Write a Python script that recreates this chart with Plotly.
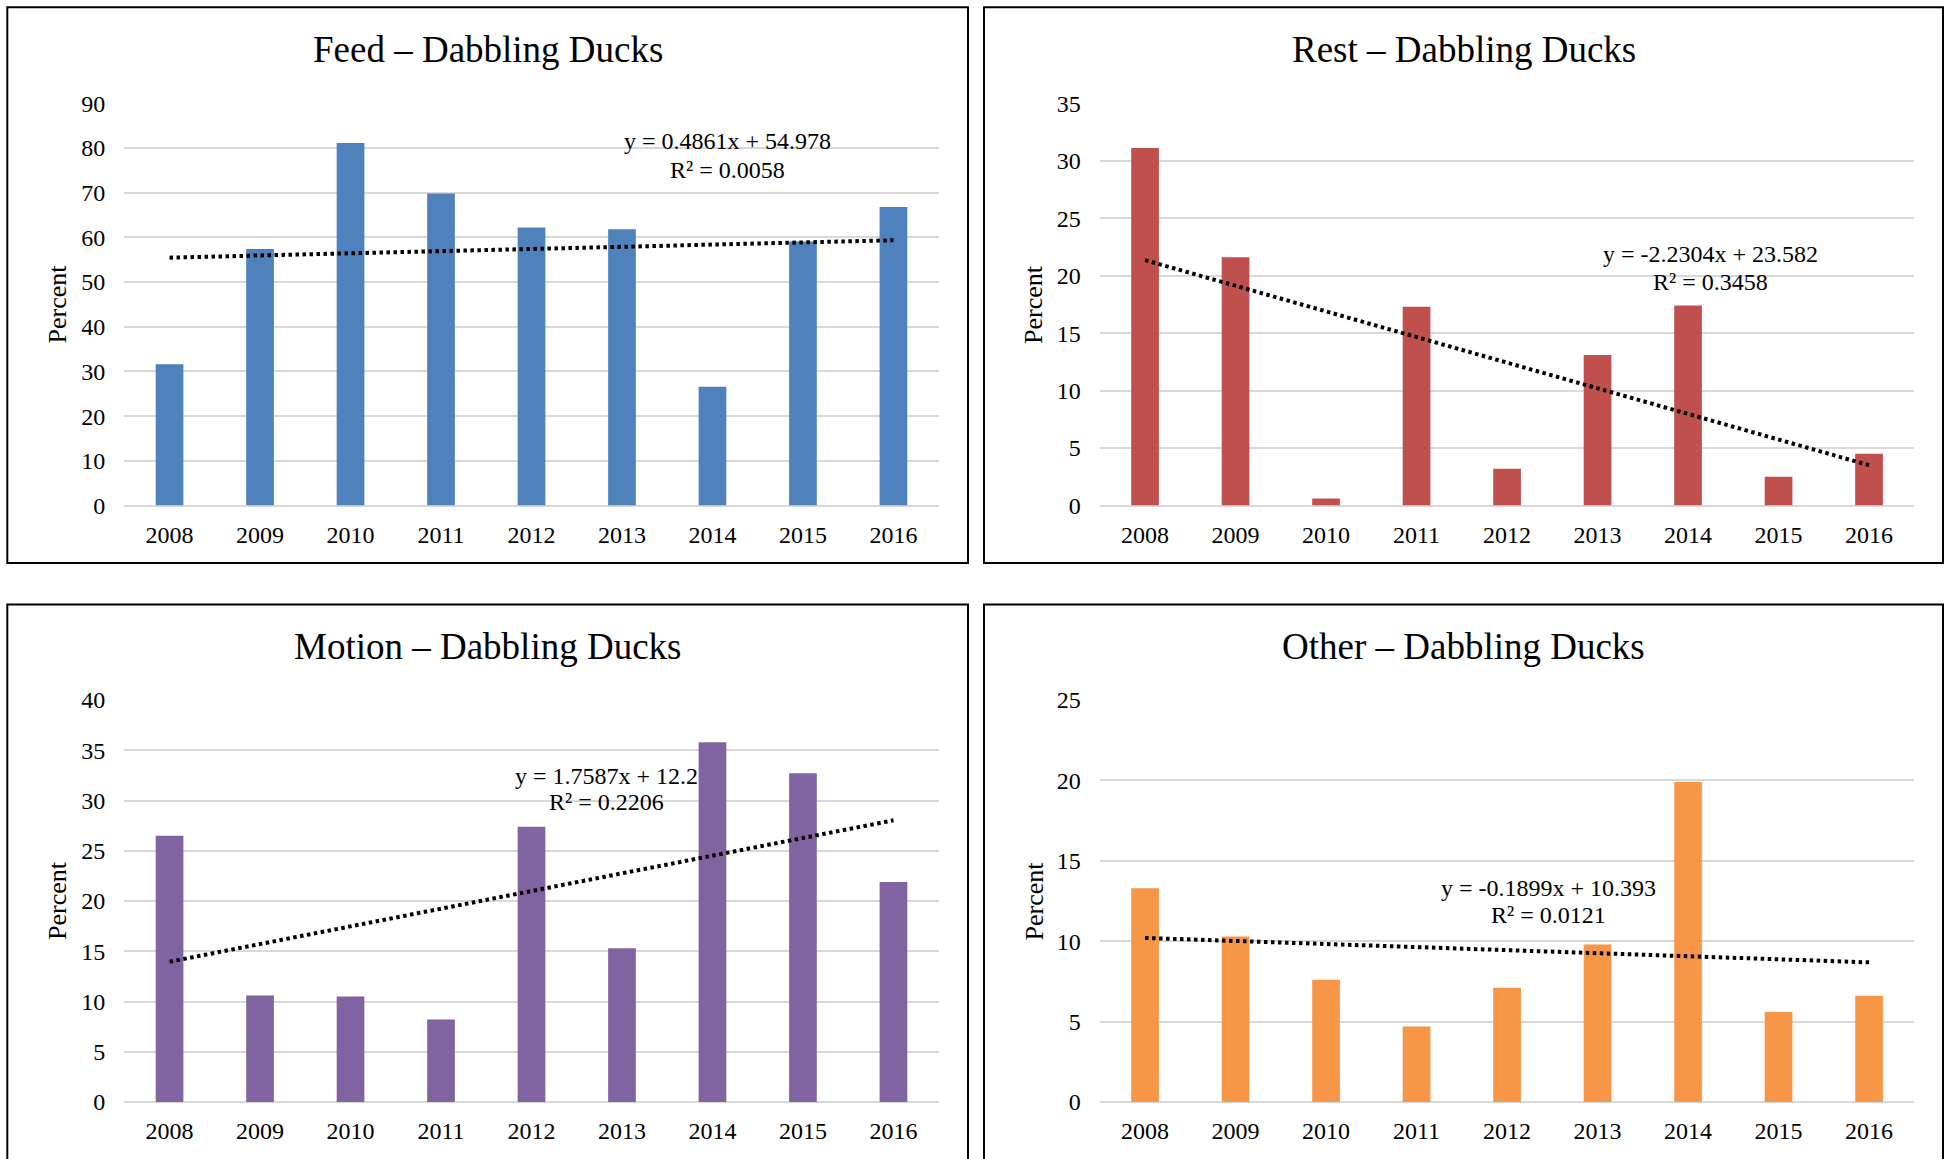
import plotly.graph_objects as go

# ---- data -------------------------------------------------------------
years = ["2008", "2009", "2010", "2011", "2012", "2013", "2014", "2015", "2016"]

feed = [31.6, 57.4, 81.1, 69.8, 62.2, 61.8, 26.6, 59.1, 66.8]
rest = [31.1, 21.6, 0.6, 17.3, 3.2, 13.1, 17.4, 2.5, 4.5]
motion = [26.5, 10.6, 10.5, 8.2, 27.4, 15.3, 35.8, 32.7, 21.9]
other = [13.3, 10.3, 7.6, 4.7, 7.1, 9.8, 19.9, 5.6, 6.6]

titles = ["Feed – Dabbling Ducks", "Rest – Dabbling Ducks",
          "Motion – Dabbling Ducks", "Other – Dabbling Ducks"]

# linear trend (x = 1..9) as reported for each series
trend_slope = [0.4861, -2.2304, 1.7587, -0.1899]
trend_intercept = [54.978, 23.582, 12.2, 10.393]
trend_r2 = [0.0058, 0.3458, 0.2206, 0.0121]

y_max = [90, 35, 40, 25]
y_step = [10, 5, 5, 5]

# ---- page geometry (pixels) ------------------------------------------
W, H = 1950, 1159
FONT = "Liberation Serif, Times New Roman, serif"
colors = ["#4F81BD", "#C0504D", "#8064A2", "#F79646"]


def px(x):
    return x / W


def py(y):
    return 1 - y / H


# plot areas: (left, right, top, bottom) in pixels
areas = [
    (124.3, 938.7, 103.3, 505.5),
    (1099.8, 1914.3, 103.3, 505.5),
    (124.3, 938.7, 700.0, 1102.0),
    (1099.8, 1914.3, 700.0, 1102.0),
]
# panel frames: (x0, x1, y0, y1)
frames = [
    (7.3, 968.0, 7.3, 563.0),
    (984.0, 1943.0, 7.3, 563.0),
    (7.3, 968.0, 604.5, 1180.0),
    (984.0, 1943.0, 604.5, 1180.0),
]
title_pos = [(487.7, 49), (1463.5, 49), (487.7, 646), (1463.5, 646)]
ylabel_pos = [(57, 304.4), (1033.5, 304.4), (57, 901), (1033.5, 901)]
eq_pos = [(727.4, 141.5, 170.0), (1710, 254, 282), (606, 775.5, 802), (1548, 888, 914.5)]

series = [feed, rest, motion, other]

fig = go.Figure()
layout = dict(
    width=W, height=H, autosize=False,
    margin=dict(l=0, r=0, t=0, b=0, pad=0, autoexpand=False),
    paper_bgcolor="white", plot_bgcolor="white",
    showlegend=False,
    font=dict(family=FONT, color="#000000", size=24),
)
annotations = []
shapes = []

for i, vals in enumerate(series):
    k = "" if i == 0 else str(i + 1)
    xa, ya = "x" + k, "y" + k
    left, right, top, bottom = areas[i]

    fig.add_trace(go.Bar(
        x=years, y=vals, xaxis=xa, yaxis=ya,
        marker=dict(color=colors[i], line=dict(width=0)),
        width=0.306, hoverinfo="x+y",
    ))

    trend = [trend_slope[i] * (j + 1) + trend_intercept[i] for j in range(len(years))]
    fig.add_trace(go.Scatter(
        x=years, y=trend, xaxis=xa, yaxis=ya, mode="lines",
        line=dict(color="#000000", width=4, dash="3.5px,3.5px"),
        hoverinfo="skip",
    ))

    layout["xaxis" + k] = dict(
        domain=[px(left), px(right)], anchor=ya,
        type="category", range=[-0.5, 8.5],
        showgrid=False, zeroline=False, showline=False, ticks="",
        tickfont=dict(family=FONT, size=24, color="#000000"),
        ticklabelstandoff=12, automargin=False,
        fixedrange=True,
    )
    layout["yaxis" + k] = dict(
        domain=[py(bottom), py(top)], anchor=xa,
        range=[0, y_max[i]], dtick=y_step[i], tick0=0,
        showgrid=True, gridcolor="#D9D9D9", gridwidth=1.5,
        zeroline=True, zerolinecolor="#D9D9D9", zerolinewidth=1.5,
        showline=False, ticks="",
        tickfont=dict(family=FONT, size=24, color="#000000"),
        ticklabelstandoff=18, automargin=False,
        fixedrange=True,
    )

    tx, ty = title_pos[i]
    annotations.append(dict(
        text=titles[i], xref="paper", yref="paper", x=px(tx), y=py(ty),
        xanchor="center", yanchor="middle", showarrow=False,
        font=dict(family=FONT, size=37, color="#000000"),
    ))

    lx, ly = ylabel_pos[i]
    annotations.append(dict(
        text="Percent", xref="paper", yref="paper", x=px(lx), y=py(ly),
        xanchor="center", yanchor="middle", showarrow=False, textangle=-90,
        font=dict(family=FONT, size=26, color="#000000"),
    ))

    ex, ey1, ey2 = eq_pos[i]
    eq_text = f"y = {trend_slope[i]:g}x + {trend_intercept[i]:g}"
    r2_text = f"R² = {trend_r2[i]:.4f}"
    for txt, yy in ((eq_text, ey1), (r2_text, ey2)):
        annotations.append(dict(
            text=txt, xref="paper", yref="paper", x=px(ex), y=py(yy),
            xanchor="center", yanchor="middle", showarrow=False,
            font=dict(family=FONT, size=24, color="#000000"),
        ))

    fx0, fx1, fy0, fy1 = frames[i]
    shapes.append(dict(
        type="rect", xref="paper", yref="paper",
        x0=px(fx0), x1=px(fx1), y0=py(fy1), y1=py(fy0),
        line=dict(color="#000000", width=2), fillcolor="rgba(0,0,0,0)",
        layer="above",
    ))

layout["annotations"] = annotations
layout["shapes"] = shapes
fig.update_layout(**layout)

fig.write_html("out.html", config={"displayModeBar": False})
